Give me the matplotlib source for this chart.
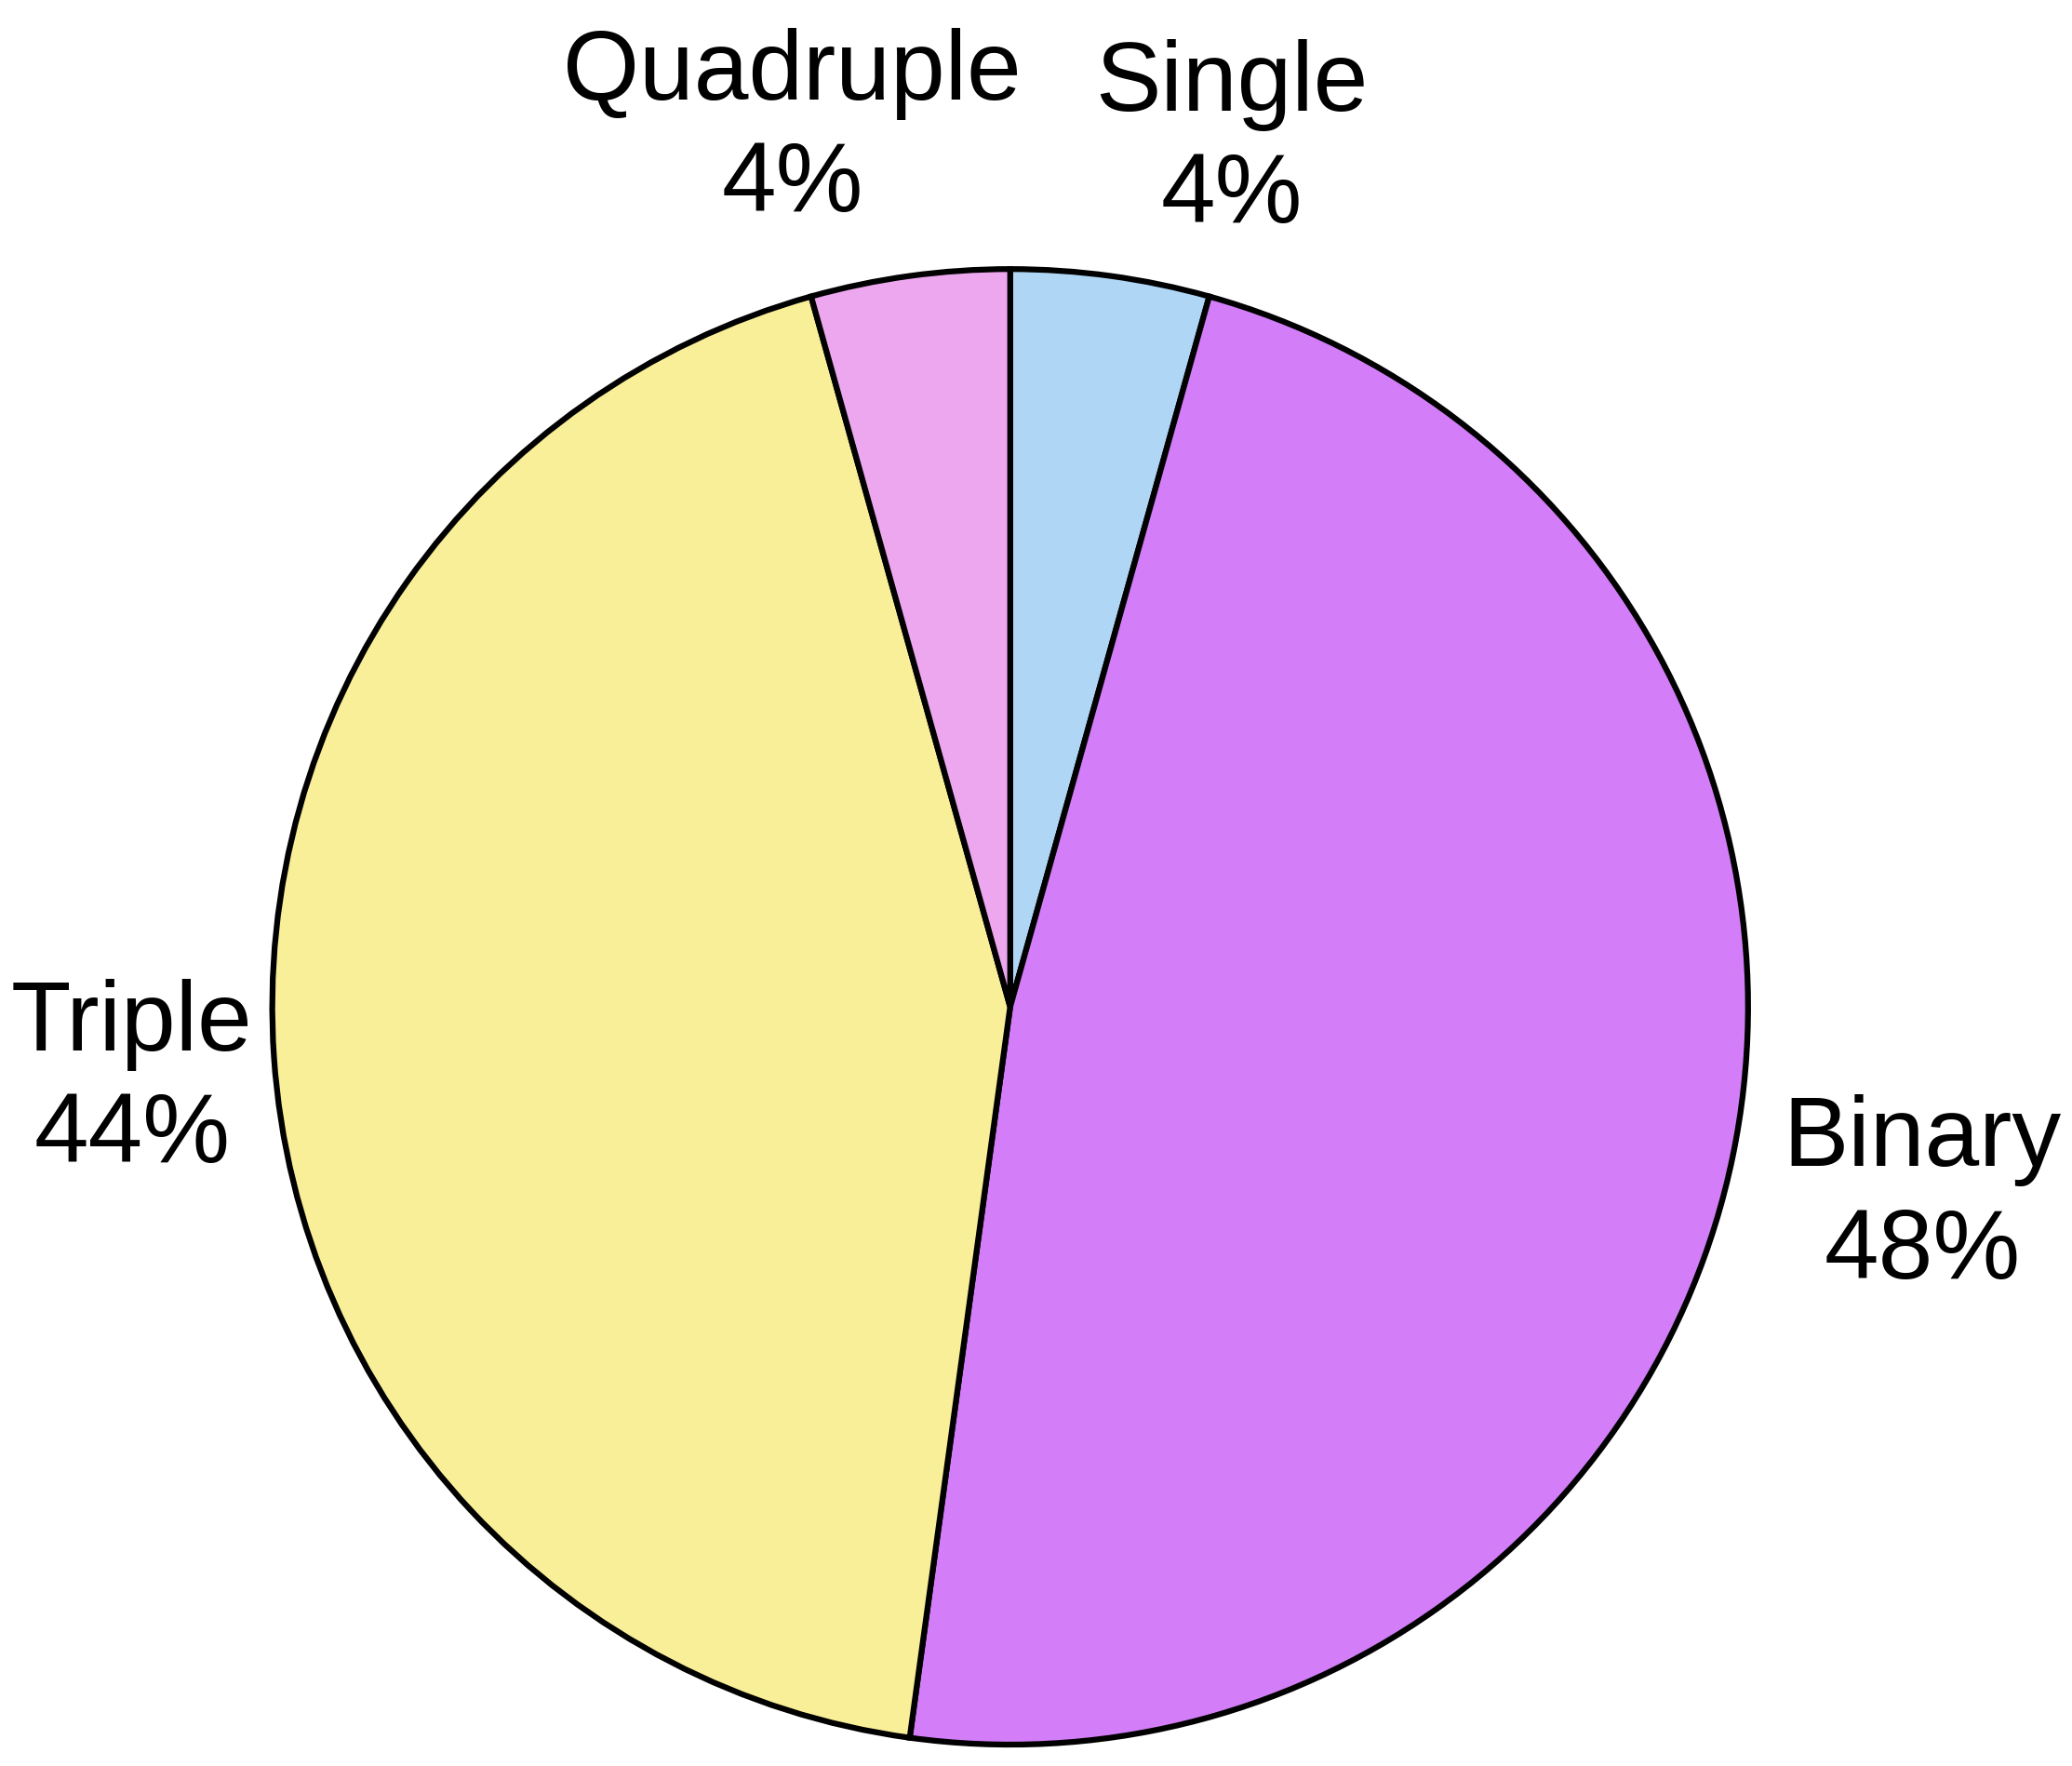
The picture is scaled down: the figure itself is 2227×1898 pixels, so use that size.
import matplotlib
matplotlib.use("Agg")
import matplotlib.pyplot as plt

plt.rcParams['font.family'] = ['Liberation Sans', 'DejaVu Sans']

# data
categories = ["Single", "Binary", "Triple", "Quadruple"]
counts = [1, 11, 10, 1]
pct_labels = ["4%", "48%", "44%", "4%"]
colors = ["#b0d6f5", "#d37ef8", "#f9ef98", "#eda7ef"]

# label centres (pie radius = 1)
label_xy = [(0.300, 1.175), (1.236, -0.256), (-1.190, -0.099), (-0.295, 1.190)]

fig = plt.figure(figsize=(22.27, 18.99), dpi=100)
ax = fig.add_axes([0, 0, 1, 1])

ax.pie(counts, colors=colors, startangle=90, counterclock=False,
       wedgeprops=dict(edgecolor="black", linewidth=4.5))

for name, pct, (x, y) in zip(categories, pct_labels, label_xy):
    ax.text(x, y, "%s\n%s" % (name, pct), ha="center", va="center",
            fontsize=76, linespacing=1.28)

ax.set_aspect("auto")
ax.set_xlim(-1.369, 1.439)
ax.set_ylim(-1.029, 1.366)
ax.axis("off")

fig.savefig("out.png", dpi=100)
